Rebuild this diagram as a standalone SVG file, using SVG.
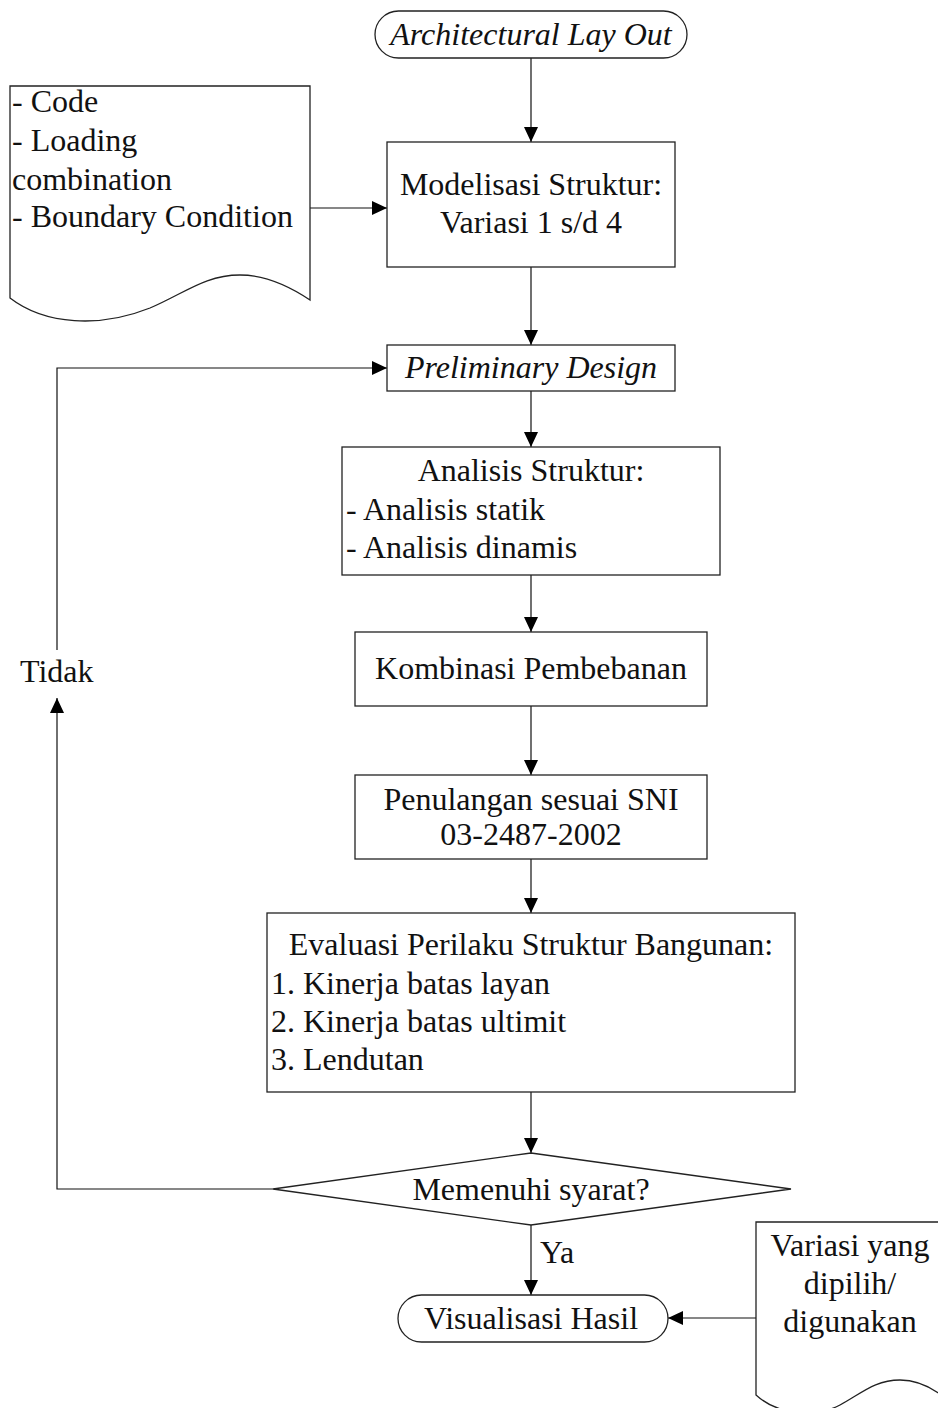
<svg xmlns="http://www.w3.org/2000/svg" width="938" height="1408" viewBox="0 0 938 1408">
<defs>
<style>
.t{font-family:"Liberation Serif","Times New Roman",serif;font-size:32px;fill:#111}
.c{text-anchor:middle}
.i{font-style:italic}
.s{fill:none;stroke:#222;stroke-width:1.3}
.l{fill:none;stroke:#111;stroke-width:1.2}
</style>
<marker id="ah" viewBox="0 0 15 14" refX="15" refY="7" markerWidth="15" markerHeight="14" markerUnits="userSpaceOnUse" orient="auto">
<path d="M0,0 L15,7 L0,14 z" fill="#000"/>
</marker>
</defs>
<rect width="938" height="1408" fill="#fff"/>

<g id="connectors">
<line class="l" x1="531" y1="58" x2="531" y2="142" marker-end="url(#ah)"/>
<line class="l" x1="310" y1="208" x2="387" y2="208" marker-end="url(#ah)"/>
<line class="l" x1="531" y1="267" x2="531" y2="345" marker-end="url(#ah)"/>
<line class="l" x1="531" y1="391" x2="531" y2="447" marker-end="url(#ah)"/>
<line class="l" x1="531" y1="575" x2="531" y2="632" marker-end="url(#ah)"/>
<line class="l" x1="531" y1="706" x2="531" y2="775" marker-end="url(#ah)"/>
<line class="l" x1="531" y1="859" x2="531" y2="913" marker-end="url(#ah)"/>
<line class="l" x1="531" y1="1092" x2="531" y2="1153" marker-end="url(#ah)"/>
<polyline class="l" points="273,1189 57,1189 57,698" marker-end="url(#ah)"/>
<polyline class="l" points="57,650 57,368 387,368" marker-end="url(#ah)"/>
<line class="l" x1="531" y1="1225" x2="531" y2="1295" marker-end="url(#ah)"/>
<line class="l" x1="756" y1="1318" x2="668" y2="1318" marker-end="url(#ah)"/>
<text class="t" x="20" y="682">Tidak</text>
<text class="t" x="540" y="1263">Ya</text>
</g>

<g id="n-layout">
<rect class="s" x="375" y="11" width="312" height="47" rx="23.5"/>
<text class="t c i" x="531" y="45">Architectural Lay Out</text>
</g>

<g id="n-input">
<path class="s" d="M310,300 L310,86 L10,86 L10,298 C45,325 100,328 150,308 C185,293 205,275 240,275 C270,275 295,290 310,300 Z"/>
<text class="t" x="12" y="112">- Code</text>
<text class="t" x="12" y="151">- Loading</text>
<text class="t" x="12" y="190">combination</text>
<text class="t" x="12" y="227">- Boundary Condition</text>
</g>

<g id="n-model">
<rect class="s" x="387" y="142" width="288" height="125"/>
<text class="t c" x="531" y="195">Modelisasi Struktur:</text>
<text class="t c" x="531" y="233">Variasi 1 s/d 4</text>
</g>

<g id="n-prelim">
<rect class="s" x="387" y="345" width="288" height="46"/>
<text class="t c i" x="531" y="378">Preliminary Design</text>
</g>

<g id="n-analisis">
<rect class="s" x="342" y="447" width="378" height="128"/>
<text class="t c" x="531" y="481">Analisis Struktur:</text>
<text class="t" x="346" y="520">- Analisis statik</text>
<text class="t" x="346" y="558">- Analisis dinamis</text>
</g>

<g id="n-kombinasi">
<rect class="s" x="355" y="632" width="352" height="74"/>
<text class="t c" x="531" y="679">Kombinasi Pembebanan</text>
</g>

<g id="n-penulangan">
<rect class="s" x="355" y="775" width="352" height="84"/>
<text class="t c" x="531" y="810">Penulangan sesuai SNI</text>
<text class="t c" x="531" y="845">03-2487-2002</text>
</g>

<g id="n-evaluasi">
<rect class="s" x="267" y="913" width="528" height="179"/>
<text class="t c" x="531" y="955">Evaluasi Perilaku Struktur Bangunan:</text>
<text class="t" x="271" y="994">1. Kinerja batas layan</text>
<text class="t" x="271" y="1032">2. Kinerja batas ultimit</text>
<text class="t" x="271" y="1070">3. Lendutan</text>
</g>

<g id="n-syarat">
<polygon class="s" points="531,1153 791,1189 531,1225 273,1189"/>
<text class="t c" x="531" y="1200">Memenuhi syarat?</text>
</g>

<g id="n-visual">
<rect class="s" x="398" y="1295" width="270" height="47" rx="23.5"/>
<text class="t c" x="531" y="1329">Visualisasi Hasil</text>
</g>

<g id="n-variasi">
<path class="s" d="M756,1395 L756,1222 L944,1222 L944,1397 C935,1390 920,1380 900,1380 C875,1380 862,1393 840,1405 C815,1418 778,1415 756,1395 Z"/>
<text class="t c" x="850" y="1256">Variasi yang</text>
<text class="t c" x="850" y="1294">dipilih/</text>
<text class="t c" x="850" y="1332">digunakan</text>
</g>
</svg>
